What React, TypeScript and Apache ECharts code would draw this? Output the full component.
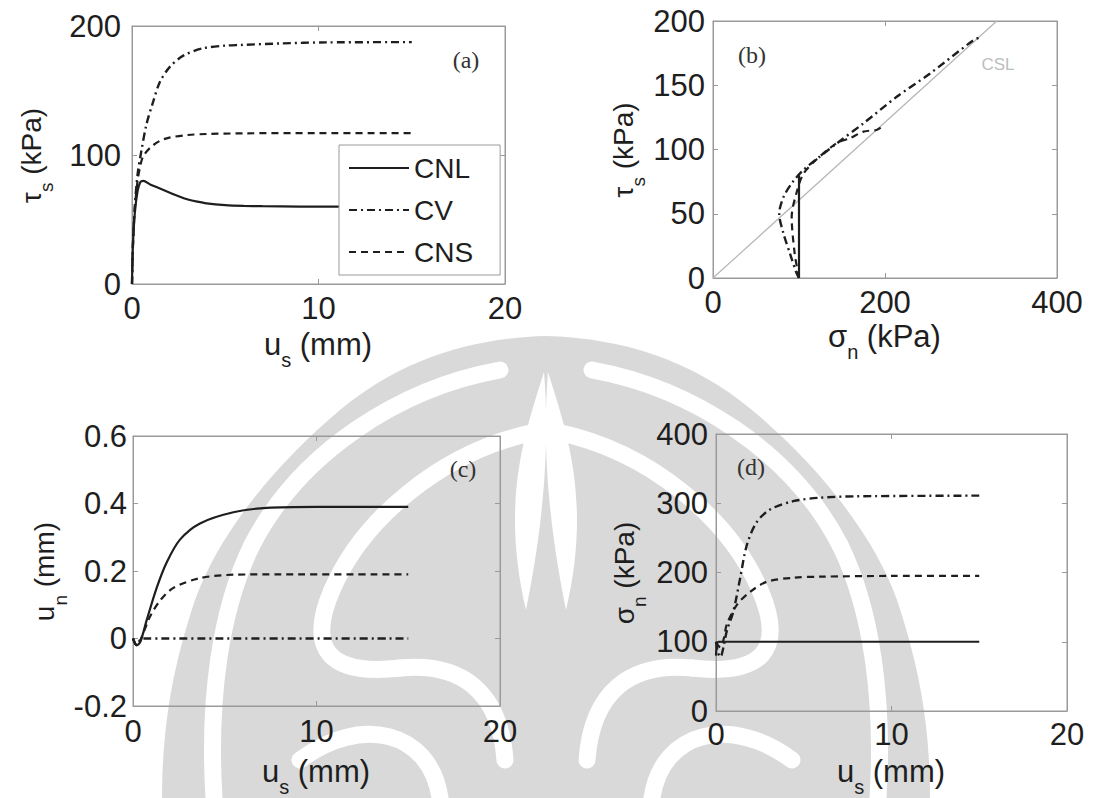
import React, { useEffect, useRef } from "react";
import * as echarts from "echarts";

// ---------- Panel (a): tau_s vs u_s ----------
const aCnlU = [0, 0.05, 0.15, 0.3, 0.45, 0.6, 1, 1.5, 2, 2.5, 3, 3.5, 4, 5, 6, 7, 9, 12, 15];
const aCnlT = [0, 30, 55, 72, 79, 80, 77, 74, 71, 68, 65.5, 63.8, 62.5, 61.2, 60.6, 60.3, 60, 60, 60];
const aCvU = [0, 0.05, 0.15, 0.3, 0.5, 0.78, 1.14, 1.5, 2.04, 2.75, 3.8, 5, 5.8, 8, 10.4, 15];
const aCvT = [0, 30, 60, 85, 103, 124, 141.5, 156.8, 168.5, 177, 182.7, 184.8, 185.3, 186.5, 187.3, 187.5];
const aCnsU = [0, 0.05, 0.15, 0.3, 0.45, 0.6, 1, 1.5, 2, 3, 4, 6, 10, 15];
const aCnsT = [0, 30, 58, 80, 92, 99, 106, 111, 113.5, 115.5, 116.3, 116.8, 117, 117];

// ---------- Panel (b): tau_s vs sigma_n ----------
const bCnlS = [100, 100, 100, 100, 100];
const bCnlT = [0, 50, 80, 70, 60];
const bCvS = [100, 97, 89.5, 81.8, 77, 82, 93, 105, 124, 144, 175, 213.6, 252, 302.7, 311];
const bCvT = [0, 4, 19, 35, 50, 63, 75, 84, 94.4, 104.8, 120.4, 141, 159, 185, 187.5];
const bCnsS = [100, 95, 91.5, 97, 105, 120, 144, 159, 175, 190, 195];
const bCnsT = [0, 19, 47.7, 66, 81, 92, 105, 108.7, 113.9, 115.2, 117];
const cslS = [0, 330];
const cslT = [0, 200];

// ---------- Panel (c): u_n vs u_s ----------
const cCnlU = [0, 0.2, 0.4, 0.75, 1.29, 1.84, 2.56, 3.65, 5.47, 7.29, 10, 15];
const cCnlV = [0, -0.02, -0.01, 0.055, 0.15, 0.226, 0.293, 0.341, 0.374, 0.387, 0.39, 0.39];
const cCvU = [0, 0.2, 0.5, 15];
const cCvV = [0, -0.02, 0, 0];
const cCnsU = [0, 0.2, 0.4, 0.93, 1.47, 2.2, 3.65, 5.47, 8, 15];
const cCnsV = [0, -0.02, -0.005, 0.065, 0.112, 0.15, 0.179, 0.189, 0.19, 0.19];

// ---------- Panel (d): sigma_n vs u_s ----------
const dCnlU = [0, 0.05, 0.15, 15];
const dCnlS = [80, 95, 100, 100];
const dCvU = [0, 0.1, 0.25, 0.45, 0.61, 0.99, 1.37, 1.75, 2.3, 3.08, 4.4, 5.9, 8, 15];
const dCvS = [100, 85, 78, 95, 115, 143.8, 191, 239, 272, 291, 303, 308, 310, 311];
const dCnsU = [0, 0.1, 0.25, 0.45, 0.61, 1.18, 1.94, 2.9, 4.4, 6, 10, 15];
const dCnsS = [100, 95, 92, 105, 124.7, 153, 172, 186.7, 192.4, 194, 195, 195];

const seriesNames = ["CNL", "CV", "CNS"];
const panelTags = ["(a)", "(b)", "(c)", "(d)"];

const pairs = (xs: number[], ys: number[]) => xs.map((x, i) => [x, ys[i]]);

const INK = "#1e1e1e";
const AXC = "#9a9a9a";
const WM = "#d9d9d9";
const SANS = "'Liberation Sans', Arial, Helvetica, sans-serif";
const SERIF = "'Liberation Serif', 'Times New Roman', serif";

const styles: Record<string, any> = {
  CNL: { type: "solid", width: 2.2, color: INK },
  CV: { type: [8, 4, 2, 4], width: 2.4, color: INK },
  CNS: { type: [7, 5], width: 2.2, color: INK },
};

const grids = [
  { left: 132, top: 26, width: 373, height: 258 },
  { left: 713, top: 21, width: 344, height: 257 },
  { left: 133, top: 436, width: 367, height: 280 },
  { left: 716, top: 434, width: 351, height: 280 },
];

const nameRich = {
  m: { fontSize: 31, lineHeight: 34, verticalAlign: "top", fontFamily: SANS, color: INK },
  s: { fontSize: 20, lineHeight: 20, verticalAlign: "bottom", fontFamily: SANS, color: INK },
  g: { fontSize: 4, lineHeight: 41 },
};
const nameRichY = {
  m: { fontSize: 28, lineHeight: 32, verticalAlign: "top", fontFamily: SANS, color: INK },
  s: { fontSize: 19, lineHeight: 20, verticalAlign: "bottom", fontFamily: SANS, color: INK },
  g: { fontSize: 4, lineHeight: 39 },
};

function xAxisFor(gi: number, min: number, max: number, interval: number, name: string, gap: number, margin: number) {
  return [
    {
      type: "value", gridIndex: gi, min, max, interval, position: "bottom",
      name, nameLocation: "middle", nameGap: gap,
      nameTextStyle: { rich: nameRich },
      axisLine: { show: true, onZero: false, lineStyle: { color: AXC, width: 1 } },
      axisTick: { show: true, inside: true, length: 5, lineStyle: { color: AXC } },
      axisLabel: { show: true, margin, fontSize: 31, color: INK, fontFamily: SANS },
      splitLine: { show: false },
    },
    {
      type: "value", gridIndex: gi, min, max, interval, position: "top",
      axisLine: { show: true, onZero: false, lineStyle: { color: AXC, width: 1 } },
      axisTick: { show: true, inside: true, length: 5, lineStyle: { color: AXC } },
      axisLabel: { show: false }, splitLine: { show: false },
    },
  ];
}

function yAxisFor(gi: number, min: number, max: number, interval: number, name: string, gap: number, margin: number, fmt?: (v: number) => string) {
  return [
    {
      type: "value", gridIndex: gi, min, max, interval, position: "left",
      name, nameLocation: "middle", nameGap: gap,
      nameTextStyle: { rich: nameRichY },
      axisLine: { show: true, onZero: false, lineStyle: { color: AXC, width: 1 } },
      axisTick: { show: true, inside: true, length: 5, lineStyle: { color: AXC } },
      axisLabel: { show: true, margin, fontSize: 31, color: INK, fontFamily: SANS, formatter: fmt },
      splitLine: { show: false },
    },
    {
      type: "value", gridIndex: gi, min, max, interval, position: "right",
      axisLine: { show: true, onZero: false, lineStyle: { color: AXC, width: 1 } },
      axisTick: { show: true, inside: true, length: 5, lineStyle: { color: AXC } },
      axisLabel: { show: false }, splitLine: { show: false },
    },
  ];
}

function line(name: string, xi: number, yi: number, data: number[][], z = 3) {
  return {
    type: "line", name, xAxisIndex: xi, yAxisIndex: yi, data,
    showSymbol: false, symbol: "none", smooth: 0.3, z,
    lineStyle: styles[name], itemStyle: { color: INK },
    emphasis: { disabled: true },
  };
}

// --- watermark shapes, left half in page coordinates (mirrored for the right half) ---
const WM_OUTER =
  "M546 336 C470 338 400 360 340 410 C280 460 220 530 195 600 C175 660 162 720 162 798 L546 798 Z";
const WM_PETAL = "M548 372 C566 430 592 500 566 610 C556 560 540 470 548 372 Z";
const whiteBands = [
  { x1: 500, y1: 370, cpx1: 400, cpy1: 388, cpx2: 300, cpy2: 452, x2: 252, y2: 545 },
  { x1: 252, y1: 545, cpx1: 220, cpy1: 610, cpx2: 208, cpy2: 700, x2: 214, y2: 798 },
  { x1: 535, y1: 432, cpx1: 440, cpy1: 452, cpx2: 362, cpy2: 520, x2: 332, y2: 590 },
  { x1: 332, y1: 590, cpx1: 306, cpy1: 650, cpx2: 330, cpy2: 676, x2: 400, y2: 668 },
  { x1: 400, y1: 668, cpx1: 462, cpy1: 662, cpx2: 500, cpy2: 692, x2: 505, y2: 760 },
  { x1: 300, y1: 760, cpx1: 360, cpy1: 715, cpx2: 430, cpy2: 730, x2: 440, y2: 798 },
];

function buildOption() {
  const xAxes = [
    ...xAxisFor(0, 0, 20, 10, "{m|u}{s|s}{m| (mm)}{g| }", 45, 9),
    ...xAxisFor(1, 0, 400, 200, "{m|σ}{s|n}{m| (kPa)}{g| }", 43, 9),
    ...xAxisFor(2, 0, 20, 10, "{m|u}{s|s}{m| (mm)}{g| }", 50, 10),
    ...xAxisFor(3, 0, 20, 10, "{m|u}{s|s}{m| (mm)}{g| }", 45, 8),
  ];
  const yAxes = [
    ...yAxisFor(0, 0, 200, 100, "{m|τ}{s|s}{m| (kPa)}{g| }", 76, 11),
    ...yAxisFor(1, 0, 200, 50, "{m|τ}{s|s}{m| (kPa)}{g| }", 65, 8),
    ...yAxisFor(2, -0.2, 0.6, 0.2, "{m|u}{s|n}{m| (mm)}{g| }", 60, 6, (v: number) => String(Math.round(v * 10) / 10)),
    ...yAxisFor(3, 0, 400, 100, "{m|σ}{s|n}{m| (kPa)}{g| }", 67, 8),
  ];

  const series: any[] = [
    line("CNL", 0, 0, pairs(aCnlU, aCnlT)),
    line("CV", 0, 0, pairs(aCvU, aCvT)),
    line("CNS", 0, 0, pairs(aCnsU, aCnsT)),
    {
      type: "line", name: "CSL", xAxisIndex: 2, yAxisIndex: 2, data: pairs(cslS, cslT),
      showSymbol: false, symbol: "none", z: 2,
      lineStyle: { color: "#b5b5b5", width: 1.2 }, emphasis: { disabled: true },
    },
    line("CNL", 2, 2, pairs(bCnlS, bCnlT)),
    line("CV", 2, 2, pairs(bCvS, bCvT)),
    line("CNS", 2, 2, pairs(bCnsS, bCnsT)),
    line("CNL", 4, 4, pairs(cCnlU, cCnlV)),
    line("CV", 4, 4, pairs(cCvU, cCvV)),
    line("CNS", 4, 4, pairs(cCnsU, cCnsV)),
    line("CNL", 6, 6, pairs(dCnlU, dCnlS)),
    line("CV", 6, 6, pairs(dCvU, dCvS)),
    line("CNS", 6, 6, pairs(dCnsU, dCnsS)),
  ];

  const tagPos = [
    [466, 60],
    [752, 55],
    [463, 469],
    [751, 467],
  ];

  const mirror = (sx: number) => (sx === 1 ? { x: 0, scaleX: 1 } : { x: 1092, scaleX: -1 });

  const graphic: any[] = [
    ...[1, -1].flatMap((sx) => [
      { type: "wmOuter", ...mirror(sx), y: 0, z: -10, silent: true, style: { fill: WM } },
      ...whiteBands.map((b) => ({
        type: "bezierCurve", ...mirror(sx), z: -9, silent: true,
        shape: b,
        style: { stroke: "#fff", lineWidth: 17, fill: null, lineCap: "round" },
      })),
      { type: "wmPetal", ...mirror(sx), y: 0, z: -9, silent: true, style: { fill: "#fff" } },
    ]),
    ...panelTags.map((t, i) => ({
      type: "text", x: tagPos[i][0], y: tagPos[i][1], z: 10, silent: true,
      style: { text: t, fontSize: 24, fontFamily: SERIF, fill: "#333", align: "center", verticalAlign: "middle" },
    })),
    {
      type: "text", x: 998, y: 64, z: 10, silent: true,
      style: { text: "CSL", fontSize: 17, fontFamily: SANS, fill: "#bdbdbd", align: "center", verticalAlign: "middle" },
    },
  ];

  return {
    animation: false,
    backgroundColor: "#ffffff",
    grid: grids.map((g) => ({ ...g, show: true, borderColor: AXC, borderWidth: 1, backgroundColor: "transparent" })),
    xAxis: xAxes,
    yAxis: yAxes,
    legend: {
      data: seriesNames,
      left: 339, top: 145, orient: "vertical",
      itemWidth: 60, itemHeight: 14, itemGap: 14,
      padding: [9, 27, 9, 9],
      backgroundColor: "#ffffff", borderColor: AXC, borderWidth: 1,
      textStyle: { fontSize: 28, color: INK, fontFamily: SANS },
      itemStyle: { color: "rgba(0,0,0,0)", borderWidth: 0, opacity: 0 },
      selectedMode: false, z: 20,
    },
    graphic,
    series,
  };
}

export default function App() {
  const ref = useRef<HTMLDivElement>(null);
  useEffect(() => {
    if (!ref.current) return;
    try {
      echarts.graphic.registerShape("wmOuter", echarts.graphic.extendPath(WM_OUTER, {}) as any);
      echarts.graphic.registerShape("wmPetal", echarts.graphic.extendPath(WM_PETAL, {}) as any);
    } catch (e) {}
    const chart = echarts.init(ref.current, undefined, { renderer: "svg" });
    chart.setOption(buildOption() as any);
    return () => chart.dispose();
  }, []);
  return (
    <div
      ref={ref}
      style={{ position: "absolute", left: 0, top: 0, width: 1093, height: 798, background: "#fff" }}
    />
  );
}
